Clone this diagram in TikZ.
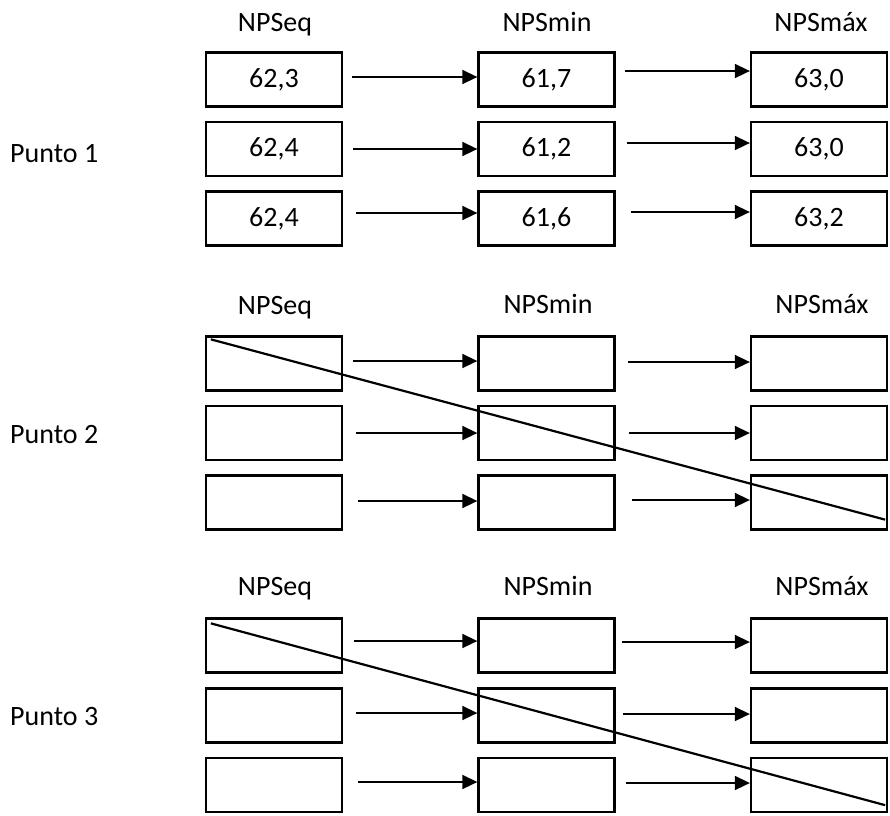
\documentclass[tikz,border=0pt]{standalone}
\usepackage{fontspec}
\setmainfont{Carlito}
\usetikzlibrary{arrows.meta}
\begin{document}
\begin{tikzpicture}[x=1pt,y=-1pt,
  valbox/.style={draw=black,line width=2.3pt,minimum width=136pt,minimum height=54pt,inner sep=0pt,font=\fontsize{28}{33}\selectfont},
  hdr/.style={anchor=base,inner sep=0pt,font=\fontsize{28}{33}\selectfont},
  plabel/.style={anchor=base west,inner sep=0pt,font=\fontsize{28}{33}\selectfont},
  arr/.style={line width=1.6pt,-{Triangle[length=15pt,width=14pt]}},
  cross/.style={line width=2.2pt}]
\useasboundingbox (0,0) rectangle (890,815);
% column centres
\def\cA{274}\def\cB{546.5}\def\cC{819}
% ---------- Punto 1
\node[hdr] (h1a) at (275,31) {NPSeq};
\node[hdr] (h1b) at (547,31) {NPSmin};
\node[hdr] (h1c) at (821,31) {NPSmáx};
\node[plabel] (p1) at (10,162) {Punto 1};
\node[valbox] (b1-1-1) at (\cA,79.5) {62,3};
\node[valbox] (b1-2-1) at (\cB,79.5) {61,7};
\node[valbox] (b1-3-1) at (\cC,79.5) {63,0};
\node[valbox] (b1-1-2) at (\cA,149) {62,4};
\node[valbox] (b1-2-2) at (\cB,149) {61,2};
\node[valbox] (b1-3-2) at (\cC,149) {63,0};
\node[valbox] (b1-1-3) at (\cA,218.5) {62,4};
\node[valbox] (b1-2-3) at (\cB,218.5) {61,6};
\node[valbox] (b1-3-3) at (\cC,218.5) {63,2};
% ---------- Punto 2
\node[hdr] (h2a) at (275,314) {NPSeq};
\node[hdr] (h2b) at (548,313) {NPSmin};
\node[hdr] (h2c) at (822,313) {NPSmáx};
\node[plabel] (p2) at (10,443) {Punto 2};
\foreach \r/\y in {1/363.5,2/433,3/502.5}{
  \node[valbox] (b2-1-\r) at (\cA,\y) {};
  \node[valbox] (b2-2-\r) at (\cB,\y) {};
  \node[valbox] (b2-3-\r) at (\cC,\y) {};
}
% ---------- Punto 3
\node[hdr] (h3a) at (275,595) {NPSeq};
\node[hdr] (h3b) at (548,595) {NPSmin};
\node[hdr] (h3c) at (822,595) {NPSmáx};
\node[plabel] (p3) at (10,725) {Punto 3};
\foreach \r/\y in {1/645.5,2/715.5,3/785}{
  \node[valbox] (b3-1-\r) at (\cA,\y) {};
  \node[valbox] (b3-2-\r) at (\cB,\y) {};
  \node[valbox] (b3-3-\r) at (\cC,\y) {};
}
% ---------- arrows: block/row/gap1/dy1/gap2/dy2
\foreach \p/\r/\ga/\da/\gb/\db in {
  1/1/9/2.5/9/8.5, 1/2/10/0/11/6, 1/3/13/5.5/15/6.5,
  2/1/10/2.5/12/1.5, 2/2/13/0/13/0, 2/3/15/1.5/16/2.5,
  3/1/11/4.5/6/3.5, 3/2/13/2.5/7/1.5, 3/3/15/3/10/2}{
  \draw[arr] ([xshift=\ga pt,yshift=\da pt]b\p-1-\r.east) -- ([yshift=\da pt]b\p-2-\r.west);
  \draw[arr] ([xshift=\gb pt,yshift=\db pt]b\p-2-\r.east) -- ([yshift=\db pt]b\p-3-\r.west);
}
% ---------- crossing lines
\draw[cross] ([xshift=6pt,yshift=-4pt]b2-1-1.north west) -- ([xshift=-3pt,yshift=11pt]b2-3-3.south east);
\draw[cross] ([xshift=6pt,yshift=-6pt]b3-1-1.north west) -- ([xshift=-3pt,yshift=8pt]b3-3-3.south east);
\end{tikzpicture}
\end{document}
